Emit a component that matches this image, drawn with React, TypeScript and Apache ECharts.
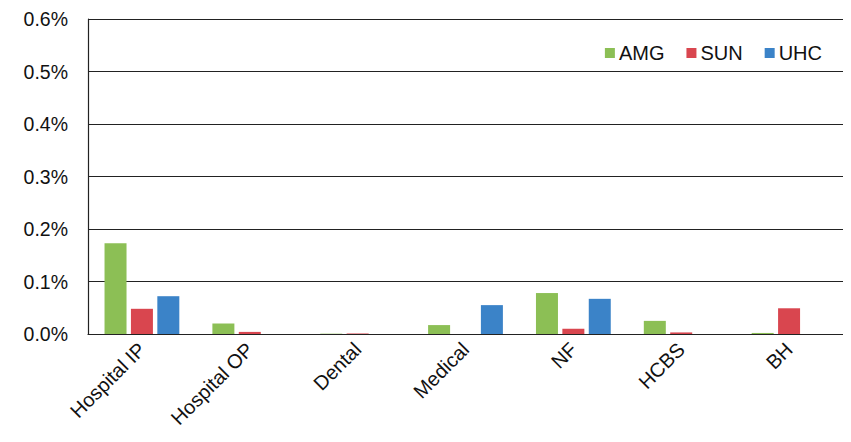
import React, { useEffect, useRef } from "react";
import * as echarts from "echarts";

const categories = ["Hospital IP", "Hospital OP", "Dental", "Medical", "NF", "HCBS", "BH"];
const seriesNames = ["AMG", "SUN", "UHC"];
// values in percent
const amg = [0.173, 0.02, 0.0006, 0.017, 0.078, 0.025, 0.002];
const sun = [0.048, 0.004, 0.001, 0, 0.01, 0.003, 0.049];
const uhc = [0.072, 0, 0, 0.055, 0.067, 0, 0];
const yTicks = [0, 0.1, 0.2, 0.3, 0.4, 0.5, 0.6];
const colors = ["#8cbf55", "#d9464f", "#3b83c8"];

export default function App() {
  const ref = useRef<HTMLDivElement>(null);
  useEffect(() => {
    if (!ref.current) return;
    const chart = echarts.init(ref.current, undefined, { renderer: "svg" });
    const font = "'Liberation Sans', Arial, sans-serif";
    const data = [amg, sun, uhc];
    chart.setOption({
      animation: false,
      textStyle: { fontFamily: font },
      grid: { left: 88, right: 8, top: 19, bottom: 108, containLabel: false },
      legend: {
        right: 24,
        top: 38,
        itemWidth: 10,
        itemHeight: 10,
        itemGap: 22,
        icon: "rect",
        textStyle: { fontSize: 20, color: "#111", fontFamily: font, padding: [0, 0, 0, -1] },
        data: seriesNames,
      },
      xAxis: {
        type: "category",
        data: categories,
        axisLine: { lineStyle: { color: "#222", width: 1.2 } },
        axisTick: { show: false },
        axisLabel: {
          rotate: 45,
          fontSize: 20,
          color: "#111",
          margin: 12,
          interval: 0,
          fontFamily: font,
        },
      },
      yAxis: {
        type: "value",
        min: yTicks[0],
        max: yTicks[yTicks.length - 1],
        interval: 0.1,
        axisLine: { show: true, lineStyle: { color: "#222", width: 1.2 } },
        axisTick: { show: false },
        splitLine: { lineStyle: { color: "#222", width: 1.2 } },
        axisLabel: {
          fontSize: 19.5,
          color: "#111",
          margin: 20,
          fontFamily: font,
          formatter: (v: number) => v.toFixed(1) + "%",
        },
      },
      series: seriesNames.map((name, i) => ({
        name,
        type: "bar",
        data: data[i],
        barWidth: 22,
        barGap: "20%",
        itemStyle: { color: colors[i] },
      })),
    });
    return () => chart.dispose();
  }, []);
  return <div ref={ref} style={{ width: 851, height: 442, margin: -8 }} />;
}
